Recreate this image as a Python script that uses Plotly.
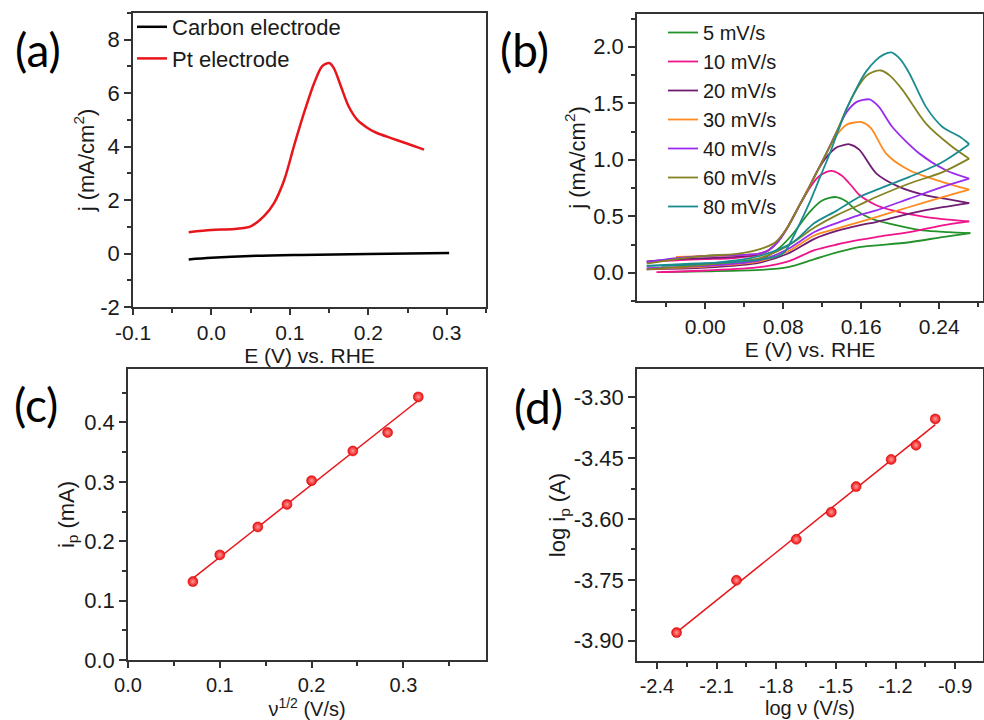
import numpy as np
import plotly.graph_objects as go

# ---------------- data ----------------
# (a) LSV curves
carbon_E = [-0.029, 0.0, 0.05, 0.114, 0.2, 0.303]
carbon_j = [-0.22, -0.16, -0.09, -0.05, -0.02, 0.02]
pt_E = [-0.029, 0.0, 0.029, 0.05, 0.067, 0.08, 0.093, 0.105, 0.118, 0.131, 0.141,
        0.150, 0.156, 0.165, 0.175, 0.186, 0.199, 0.211, 0.229, 0.25, 0.271]
pt_j = [0.80, 0.88, 0.92, 1.02, 1.4, 1.9, 2.77, 4.0, 5.26, 6.38, 7.0,
        7.13, 6.94, 6.26, 5.5, 5.0, 4.70, 4.51, 4.32, 4.11, 3.89]

# (b) CVs at different scan rates: forward (up) and reverse (dn) branches
rate_names = ["5 mV/s", "10 mV/s", "20 mV/s", "30 mV/s", "40 mV/s", "60 mV/s", "80 mV/s"]
rate_colors = ["#23922a", "#f0148c", "#701c72", "#ff8a1e", "#9a2cf0", "#848322", "#1a8c8f"]

up5_E = [-0.045, 0.0, 0.04, 0.058, 0.077, 0.09, 0.107, 0.12, 0.1345, 0.145, 0.155, 0.17, 0.189, 0.223, 0.25, 0.272]
up5_j = [0.06, 0.07, 0.085, 0.12, 0.227, 0.345, 0.537, 0.64, 0.67, 0.63, 0.552, 0.48, 0.434, 0.375, 0.36, 0.351]
up10_E = [-0.06, -0.03, 0.0, 0.03, 0.055, 0.065, 0.075, 0.085, 0.095, 0.105, 0.115, 0.124, 0.131,
          0.14, 0.15, 0.158, 0.175, 0.192, 0.2265, 0.25, 0.2708]
up10_j = [0.095, 0.11, 0.12, 0.13, 0.16, 0.2, 0.28, 0.41, 0.57, 0.72, 0.84, 0.89, 0.90,
          0.86, 0.77, 0.69, 0.60, 0.552, 0.493, 0.47, 0.455]
up20_E = [-0.06, -0.03, 0.0, 0.03, 0.055, 0.065, 0.075, 0.085, 0.095, 0.105, 0.115, 0.125, 0.135,
          0.142, 0.148, 0.158, 0.1754, 0.199, 0.2265, 0.25, 0.2708]
up20_j = [0.10, 0.12, 0.13, 0.14, 0.165, 0.2, 0.28, 0.41, 0.57, 0.73, 0.90, 1.03, 1.11,
          1.13, 1.137, 1.09, 0.88, 0.76, 0.685, 0.65, 0.617]
up30_E = [-0.03, 0.0, 0.03, 0.055, 0.065, 0.075, 0.085, 0.095, 0.105, 0.115, 0.125, 0.135, 0.145,
          0.153, 0.16, 0.17, 0.1856, 0.2095, 0.2435, 0.2708]
up30_j = [0.14, 0.15, 0.155, 0.17, 0.2, 0.28, 0.41, 0.57, 0.73, 0.90, 1.07, 1.22, 1.31,
          1.33, 1.335, 1.28, 1.055, 0.907, 0.803, 0.736]
up40_E = [-0.06, -0.03, 0.0, 0.03, 0.055, 0.065, 0.075, 0.085, 0.095, 0.105, 0.115, 0.125, 0.135,
          0.145, 0.155, 0.162, 0.1686, 0.178, 0.192, 0.2197, 0.247, 0.2708]
up40_j = [0.095, 0.13, 0.15, 0.155, 0.17, 0.2, 0.28, 0.41, 0.57, 0.73, 0.90, 1.07, 1.25,
          1.42, 1.51, 1.53, 1.534, 1.47, 1.29, 1.055, 0.907, 0.833]
up60_E = [-0.06, -0.03, 0.0, 0.03, 0.045, 0.06, 0.072, 0.085, 0.095, 0.105, 0.115, 0.125, 0.135,
          0.145, 0.155, 0.165, 0.173, 0.1805, 0.19, 0.2026, 0.2265, 0.2537, 0.2708]
up60_j = [0.08, 0.12, 0.15, 0.165, 0.185, 0.22, 0.27, 0.41, 0.57, 0.73, 0.90, 1.07, 1.25,
          1.45, 1.62, 1.74, 1.78, 1.79, 1.74, 1.616, 1.32, 1.113, 1.01]
up80_E = [-0.06, -0.03, 0.0, 0.03, 0.06, 0.075, 0.082, 0.095, 0.107, 0.118, 0.128, 0.137, 0.145,
          0.155, 0.165, 0.175, 0.183, 0.191, 0.2, 0.2095, 0.2265, 0.2435, 0.262, 0.2708]
up80_j = [0.06, 0.075, 0.085, 0.095, 0.12, 0.15, 0.19, 0.40, 0.62, 0.85, 1.06, 1.27, 1.45,
          1.63, 1.78, 1.88, 1.93, 1.95, 1.89, 1.764, 1.468, 1.29, 1.2, 1.14]

dn_E = [0.2708, 0.2435, 0.2095, 0.1754, 0.158, 0.135, 0.112, 0.085, 0.056, 0.0, -0.06]
dn5_E = [0.272, 0.2435, 0.2095, 0.1754, 0.158, 0.135, 0.112, 0.085, 0.056, 0.0, -0.045]
dn10_E = [0.2708, 0.2435, 0.2095, 0.1754, 0.158, 0.135, 0.112, 0.085, 0.056, 0.0, -0.05]
dn5_j = [0.351, 0.316, 0.27, 0.242, 0.227, 0.18, 0.12, 0.05, 0.025, 0.012, 0.005]
dn10_j = [0.455, 0.42, 0.36, 0.316, 0.29, 0.25, 0.20, 0.10, 0.05, 0.02, 0.005]
dn20_j = [0.617, 0.58, 0.523, 0.449, 0.42, 0.37, 0.30, 0.17, 0.09, 0.045, 0.03]
dn30_j = [0.736, 0.67, 0.582, 0.493, 0.449, 0.39, 0.33, 0.19, 0.10, 0.055, 0.035]
dn40_j = [0.833, 0.76, 0.656, 0.552, 0.51, 0.44, 0.36, 0.21, 0.11, 0.06, 0.04]
dn60_j = [1.01, 0.89, 0.79, 0.67, 0.60, 0.51, 0.40, 0.24, 0.13, 0.07, 0.03]
dn80_E = [0.2708, 0.2435, 0.2095, 0.179, 0.158, 0.135, 0.112, 0.09, 0.056, 0.0, -0.06]
dn80_j = [1.137, 0.98, 0.848, 0.745, 0.67, 0.55, 0.44, 0.27, 0.15, 0.08, 0.06]

# (c) peak current vs sqrt(scan rate)
sqrt_v = [0.0707, 0.1, 0.1414, 0.1732, 0.2, 0.2449, 0.2828, 0.3162]
ip_mA = [0.132, 0.177, 0.224, 0.262, 0.302, 0.352, 0.383, 0.443]
# (d) log ip vs log v
log_v = [-2.301, -2.0, -1.699, -1.523, -1.398, -1.222, -1.097, -1.0]
log_ip = [-3.880, -3.751, -3.650, -3.583, -3.520, -3.453, -3.418, -3.353]

# tick labels
a_xt = [-0.1, 0.0, 0.1, 0.2, 0.3]; a_xl = ["-0.1", "0.0", "0.1", "0.2", "0.3"]
a_yt = [-2, 0, 2, 4, 6, 8]; a_yl = ["-2", "0", "2", "4", "6", "8"]
b_xt = [0.0, 0.08, 0.16, 0.24]; b_xl = ["0.00", "0.08", "0.16", "0.24"]
b_yt = [0.0, 0.5, 1.0, 1.5, 2.0]; b_yl = ["0.0", "0.5", "1.0", "1.5", "2.0"]
c_xt = [0.0, 0.1, 0.2, 0.3]; c_xl = ["0.0", "0.1", "0.2", "0.3"]
c_yt = [0.0, 0.1, 0.2, 0.3, 0.4]; c_yl = ["0.0", "0.1", "0.2", "0.3", "0.4"]
d_xt = [-2.4, -2.1, -1.8, -1.5, -1.2, -0.9]; d_xl = ["-2.4", "-2.1", "-1.8", "-1.5", "-1.2", "-0.9"]
d_yt = [-3.90, -3.75, -3.60, -3.45, -3.30]; d_yl = ["-3.90", "-3.75", "-3.60", "-3.45", "-3.30"]

# ---------------- figure ----------------
FONT = "Liberation Sans, Arial, sans-serif"
fig = go.Figure()

fig.add_trace(go.Scatter(x=carbon_E, y=carbon_j, mode="lines", name="Carbon electrode",
                         line=dict(color="black", width=2.5, shape="spline"),
                         xaxis="x", yaxis="y", legend="legend"))
fig.add_trace(go.Scatter(x=pt_E, y=pt_j, mode="lines", name="Pt electrode",
                         line=dict(color="#e8151b", width=2.5, shape="spline", smoothing=0.8),
                         xaxis="x", yaxis="y", legend="legend"))

ups = [(up5_E, up5_j), (up10_E, up10_j), (up20_E, up20_j), (up30_E, up30_j),
       (up40_E, up40_j), (up60_E, up60_j), (up80_E, up80_j)]
dns = [(dn5_E, dn5_j), (dn10_E, dn10_j), (dn_E, dn20_j), (dn_E, dn30_j),
       (dn_E, dn40_j), (dn_E, dn60_j), (dn80_E, dn80_j)]
for name, col, (ue, uj), (de, dj) in zip(rate_names, rate_colors, ups, dns):
    fig.add_trace(go.Scatter(x=ue, y=uj, mode="lines", name=name, legendgroup=name,
                             line=dict(color=col, width=1.8, shape="spline", smoothing=0.8),
                             xaxis="x2", yaxis="y2", legend="legend2"))
    fig.add_trace(go.Scatter(x=de, y=dj, mode="lines", name=name, legendgroup=name, showlegend=False,
                             line=dict(color=col, width=1.8, shape="spline", smoothing=0.8),
                             xaxis="x2", yaxis="y2", legend="legend2"))

marker_style = dict(color="#ee0d0d", size=10,
                    gradient=dict(type="radial", color="#ff9a9a"),
                    line=dict(width=0.5, color="#d00000"))

c_fit = np.polyfit(sqrt_v, ip_mA, 1)
c_fx = [min(sqrt_v), max(sqrt_v)]
fig.add_trace(go.Scatter(x=c_fx, y=np.polyval(c_fit, c_fx), mode="lines", showlegend=False,
                         line=dict(color="#e8151b", width=1.5), xaxis="x3", yaxis="y3"))
fig.add_trace(go.Scatter(x=sqrt_v, y=ip_mA, mode="markers", showlegend=False,
                         marker=marker_style, xaxis="x3", yaxis="y3"))

d_fit = np.polyfit(log_v, log_ip, 1)
d_fx = [min(log_v), max(log_v)]
fig.add_trace(go.Scatter(x=d_fx, y=np.polyval(d_fit, d_fx), mode="lines", showlegend=False,
                         line=dict(color="#e8151b", width=1.5), xaxis="x4", yaxis="y4"))
fig.add_trace(go.Scatter(x=log_v, y=log_ip, mode="markers", showlegend=False,
                         marker=marker_style, xaxis="x4", yaxis="y4"))

W, H = 984, 720


def px_dom_x(a, b):
    return [a / W, b / W]


def px_dom_y(top, bottom):
    return [1 - bottom / H, 1 - top / H]


def axis(domain, anchor, rng, tv, tt, minor_dtick, minor_tick0, title, standoff, tsize=22, lsize=22, tlen=7):
    return dict(domain=domain, anchor=anchor, range=rng, tickmode="array", tickvals=tv, ticktext=tt,
                showline=True, linecolor="#333333", linewidth=1.6, mirror=True,
                ticks="outside", ticklen=tlen, tickwidth=1.5, tickcolor="#333333",
                minor=dict(ticks="outside", ticklen=4, tickwidth=1.5, tickcolor="#333333",
                           dtick=minor_dtick, tick0=minor_tick0, showgrid=False),
                showgrid=False, zeroline=False, automargin=False,
                tickfont=dict(family=FONT, size=lsize, color="#1a1a1a"),
                title=dict(text=title, font=dict(family=FONT, size=tsize, color="#1a1a1a"), standoff=standoff))


layout = dict(
    width=W, height=H, margin=dict(l=0, r=0, t=0, b=0),
    paper_bgcolor="white", plot_bgcolor="white",
    xaxis=axis(px_dom_x(133, 486), "y", [-0.1, 0.35], a_xt, a_xl, 0.05, 0, "E (V) vs. RHE", 3,
               tsize=21, lsize=21, tlen=6),
    yaxis=axis(px_dom_y(13, 307), "x", [-2, 9], a_yt, a_yl, 1, 0, "j (mA/cm<sup>2</sup>)", 0),
    xaxis2=axis(px_dom_x(637, 983), "y2", [-0.07, 0.285], b_xt, b_xl, 0.04, 0, "E (V) vs. RHE", 3,
                tsize=21, lsize=21, tlen=6),
    yaxis2=axis(px_dom_y(14, 301), "x2", [-0.25, 2.29], b_yt, b_yl, 0.25, 0, "j (mA/cm<sup>2</sup>)", 2),
    xaxis3=axis(px_dom_x(128, 486), "y3", [0, 0.39], c_xt, c_xl, 0.05, 0, "ν<sup>1/2</sup> (V/s)", 4,
                tsize=20, lsize=20, tlen=6),
    yaxis3=axis(px_dom_y(369, 660), "x3", [0, 0.49], c_yt, c_yl, 0.05, 0, "i<sub>p</sub> (mA)", 4),
    xaxis4=axis(px_dom_x(637, 983), "y4", [-2.5, -0.76], d_xt, d_xl, 0.15, -2.4, "log ν (V/s)", 3,
                tsize=20, lsize=20, tlen=6),
    yaxis4=axis(px_dom_y(369, 661), "x4", [-3.95, -3.23], d_yt, d_yl, 0.075, -3.3, "log i<sub>p</sub> (A)", 2),
    legend=dict(x=132 / W, y=1 - 6 / H, xanchor="left", yanchor="top", bgcolor="rgba(0,0,0,0)",
                font=dict(family=FONT, size=22, color="#1a1a1a"), tracegroupgap=0, itemwidth=30),
    legend2=dict(x=663 / W, y=1 - 13 / H, xanchor="left", yanchor="top", bgcolor="rgba(0,0,0,0)",
                 font=dict(family=FONT, size=20, color="#1a1a1a"), tracegroupgap=0, itemwidth=30),
    showlegend=True,
)
fig.update_layout(**layout)

panel_labels = ["(a)", "(b)", "(c)", "(d)"]
panel_pos = [(13, 50), (498, 50), (12, 404), (512, 406)]
for lab, (px, py) in zip(panel_labels, panel_pos):
    fig.add_annotation(text=lab, xref="paper", yref="paper", x=px / W, y=1 - py / H,
                       xanchor="left", yanchor="middle", showarrow=False,
                       font=dict(family="Lato, Open Sans, sans-serif", size=46, color="black"))

fig.write_html("out.html")
